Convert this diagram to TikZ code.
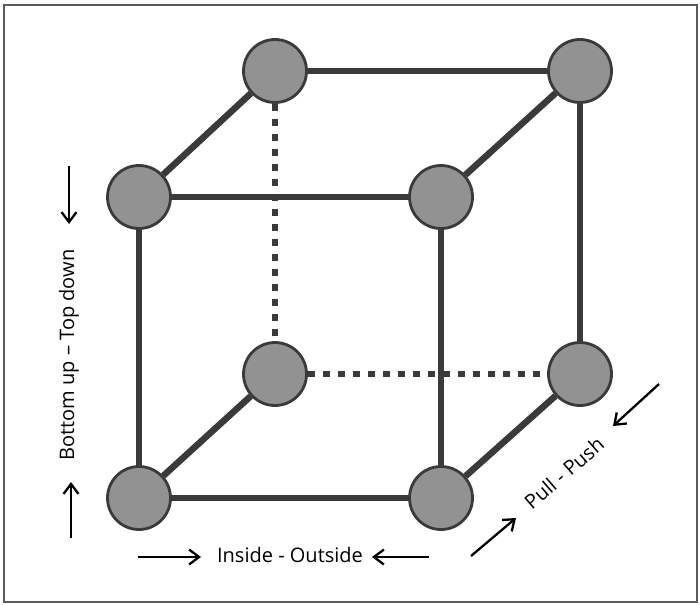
\documentclass[tikz,border=0pt]{standalone}
\usepackage{fontspec}
\setmainfont{Open Sans}
\usetikzlibrary{arrows.meta}
\pgfdeclarelayer{back}
\pgfdeclarelayer{edges}
\pgfsetlayers{back,edges,main}
\definecolor{edgegray}{HTML}{3A3A3A}
\definecolor{nodefill}{HTML}{929292}
\definecolor{framegray}{HTML}{5A5A5A}
\tikzset{
  vertex/.style={circle,fill=nodefill,draw=edgegray,line width=2.8pt,minimum size=63pt,inner sep=0pt},
  solidedge/.style={draw=edgegray,line width=6.5pt},
  dotedge/.style={draw=edgegray,line width=6.5pt,dash pattern=on 7pt off 8pt},
  dirarrow/.style={draw=black,line width=2.3pt,-{Straight Barb[length=10pt,width=15pt,line width=2.3pt]}},
  lbl/.style={font=\fontsize{20}{24}\selectfont,inner sep=0pt}
}
\begin{document}
\begin{tikzpicture}[x=1pt,y=-1pt]
\useasboundingbox (0,0) rectangle (700,604);
\begin{pgfonlayer}{back}
\fill[white] (0,0) rectangle (700,604);
\draw[framegray,line width=1.5pt] (4,5) rectangle (697,602);
\end{pgfonlayer}
% vertices
\node[vertex] (tbl) at (275,71) {};
\node[vertex] (tbr) at (580,71) {};
\node[vertex] (tfl) at (139,197) {};
\node[vertex] (tfr) at (441,197) {};
\node[vertex] (bbl) at (275,374) {};
\node[vertex] (bbr) at (580,374) {};
\node[vertex] (bfl) at (139,498) {};
\node[vertex] (bfr) at (441,498) {};
\begin{pgfonlayer}{edges}
\draw[solidedge] (tbl) -- (tbr);
\draw[solidedge] (tfl) -- (tfr);
\draw[solidedge] (bfl) -- (bfr);
\draw[solidedge] (tbl) -- (tfl);
\draw[solidedge] (tbr) -- (tfr);
\draw[solidedge] (bbl) -- (bfl);
\draw[solidedge] (bbr) -- (bfr);
\draw[solidedge] (tfl) -- (bfl);
\draw[solidedge] (tfr) -- (bfr);
\draw[solidedge] (tbr) -- (bbr);
\draw[dotedge] (tbl) -- (bbl);
\draw[dotedge] (bbl) -- (bbr);
\end{pgfonlayer}
% labels
\node[lbl,rotate=90] (vlab) at (69,355) {Bottom up – Top down};
\node[lbl] (hlab) at (290,555) {Inside - Outside};
\node[lbl,rotate=41] (dlab) at (564,473) {Pull - Push};
% arrows
\coordinate (a1s) at (69,166); \coordinate (a1e) at (69,224);
\coordinate (a2s) at (71,538); \coordinate (a2e) at (71,482);
\coordinate (a3s) at (138,557); \coordinate (a3e) at (201,557);
\coordinate (a4s) at (429,557); \coordinate (a4e) at (372,557);
\coordinate (a5s) at (471,556); \coordinate (a5e) at (516,518);
\coordinate (a6s) at (659,384); \coordinate (a6e) at (613,426);
\draw[dirarrow] (a1s) -- (a1e);
\draw[dirarrow] (a2s) -- (a2e);
\draw[dirarrow] (a3s) -- (a3e);
\draw[dirarrow] (a4s) -- (a4e);
\draw[dirarrow] (a5s) -- (a5e);
\draw[dirarrow] (a6s) -- (a6e);
\end{tikzpicture}
\end{document}
